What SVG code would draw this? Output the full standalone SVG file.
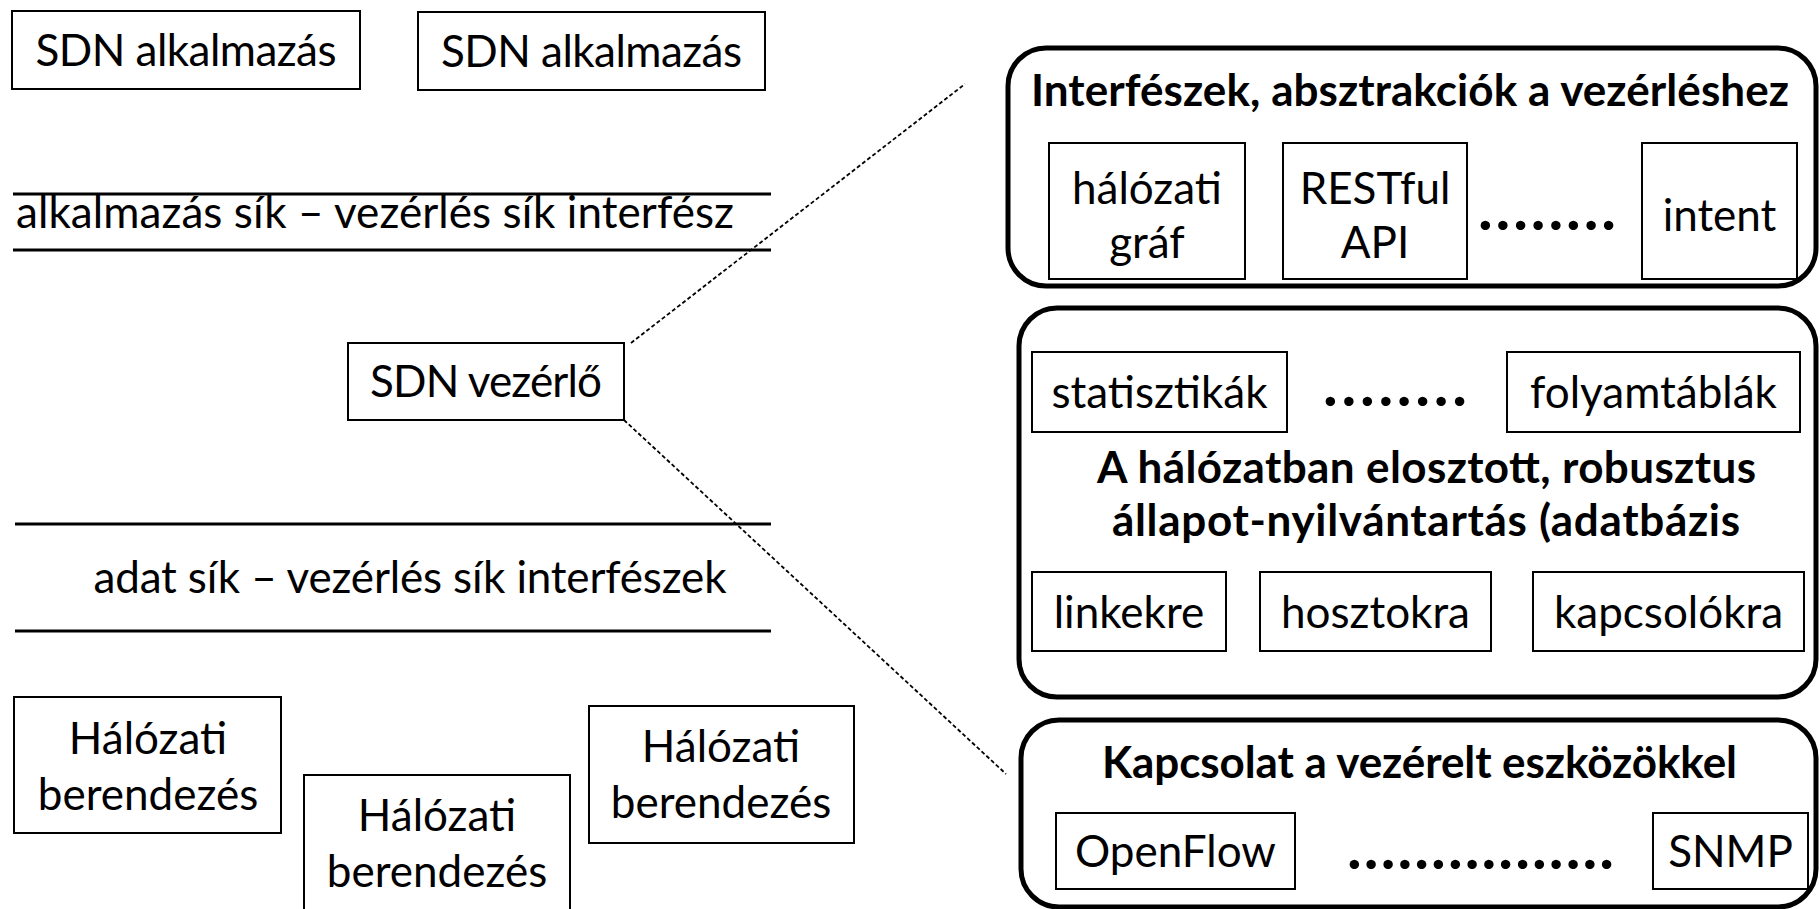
<svg xmlns="http://www.w3.org/2000/svg" width="1820" height="909" viewBox="0 0 1820 909">
  <style>
    .box { fill: #ffffff; stroke: #000000; stroke-width: 2; }
    .panel { fill: #ffffff; stroke: #000000; stroke-width: 5; }
    .rule { stroke: #000000; stroke-width: 3; }
    .lbl { font-family: Lato, "Liberation Sans", sans-serif; font-size: 44px; fill: #000000; text-anchor: middle; }
    .ttl { font-family: Lato, "Liberation Sans", sans-serif; font-size: 44px; font-weight: bold; fill: #000000; text-anchor: middle; }
    .dots { font-family: Lato, "Liberation Sans", sans-serif; font-size: 62px; font-weight: bold; fill: #000000; }
    .link { fill: none; stroke: #000000; stroke-width: 1.8; stroke-dasharray: 4 2.5; }
  </style>
  <rect width="1820" height="909" fill="#ffffff"/>

  <!-- application layer -->
  <g id="app1">
    <rect class="box" x="12" y="11" width="348" height="78"/>
    <text class="lbl" x="186" y="66" textLength="301">SDN alkalmazás</text>
  </g>
  <g id="app2">
    <rect class="box" x="418" y="12" width="347" height="78"/>
    <text class="lbl" x="591.5" y="67" textLength="301">SDN alkalmazás</text>
  </g>

  <!-- northbound interface band -->
  <g id="northbound">
    <line class="rule" x1="13" y1="194" x2="771" y2="194"/>
    <text class="lbl" x="375" y="228" textLength="718">alkalmazás sík – vezérlés sík interfész</text>
    <line class="rule" x1="13" y1="250" x2="771" y2="250"/>
  </g>

  <!-- controller -->
  <g id="controller">
    <rect class="box" x="348" y="343" width="276" height="77"/>
    <text class="lbl" x="486" y="397" textLength="232">SDN vezérlő</text>
  </g>

  <!-- southbound interface band -->
  <g id="southbound">
    <line class="rule" x1="15" y1="524" x2="771" y2="524"/>
    <text class="lbl" x="410" y="593" textLength="633">adat sík – vezérlés sík interfészek</text>
    <line class="rule" x1="15" y1="631" x2="771" y2="631"/>
  </g>

  <!-- network devices -->
  <g id="device1">
    <rect class="box" x="14" y="697" width="267" height="136"/>
    <text class="lbl" x="148" y="754">Hálózati</text>
    <text class="lbl" x="148" y="810">berendezés</text>
  </g>
  <g id="device2">
    <rect class="box" x="304" y="775" width="266" height="150"/>
    <text class="lbl" x="437" y="831">Hálózati</text>
    <text class="lbl" x="437" y="887">berendezés</text>
  </g>
  <g id="device3">
    <rect class="box" x="589" y="706" width="265" height="137"/>
    <text class="lbl" x="721" y="762">Hálózati</text>
    <text class="lbl" x="721" y="818">berendezés</text>
  </g>

  <!-- controller internals: abstractions -->
  <g id="abstractions">
    <rect class="panel" x="1008" y="48" width="808" height="238" rx="38"/>
    <text class="ttl" x="1410" y="106" textLength="758">Interfészek, absztrakciók a vezérléshez</text>
    <rect class="box" x="1049" y="143" width="196" height="136"/>
    <text class="lbl" x="1147" y="204">hálózati</text>
    <text class="lbl" x="1147" y="258">gráf</text>
    <rect class="box" x="1283" y="143" width="184" height="136"/>
    <text class="lbl" x="1375" y="204">RESTful</text>
    <text class="lbl" x="1375" y="258">API</text>
    <text class="dots" x="1478" y="230" textLength="138">........</text>
    <rect class="box" x="1642" y="143" width="155" height="136"/>
    <text class="lbl" x="1719.5" y="231">intent</text>
  </g>

  <!-- controller internals: distributed state -->
  <g id="state">
    <rect class="panel" x="1019" y="308" width="797" height="389" rx="38"/>
    <rect class="box" x="1032" y="352" width="255" height="80"/>
    <text class="lbl" x="1159.5" y="408">statisztikák</text>
    <text class="dots" x="1323" y="406" textLength="144">........</text>
    <rect class="box" x="1507" y="352" width="293" height="80"/>
    <text class="lbl" x="1653.5" y="408">folyamtáblák</text>
    <text class="ttl" x="1426.5" y="483" textLength="659">A hálózatban elosztott, robusztus</text>
    <text class="ttl" x="1426" y="536" textLength="628">állapot-nyilvántartás (adatbázis</text>
    <rect class="box" x="1032" y="572" width="194" height="79"/>
    <text class="lbl" x="1129" y="628">linkekre</text>
    <rect class="box" x="1260" y="572" width="231" height="79"/>
    <text class="lbl" x="1375.5" y="628">hosztokra</text>
    <rect class="box" x="1533" y="572" width="271" height="79"/>
    <text class="lbl" x="1668.5" y="628">kapcsolókra</text>
  </g>

  <!-- controller internals: device communication -->
  <g id="communication">
    <rect class="panel" x="1021" y="720" width="795" height="187" rx="38"/>
    <text class="ttl" x="1419.5" y="778" textLength="635">Kapcsolat a vezérelt eszközökkel</text>
    <rect class="box" x="1056" y="813" width="239" height="76"/>
    <text class="lbl" x="1175.5" y="867">OpenFlow</text>
    <text class="dots" x="1347" y="869" textLength="267">................</text>
    <rect class="box" x="1653" y="813" width="155" height="76"/>
    <text class="lbl" x="1730.5" y="867">SNMP</text>
  </g>

  <!-- zoom-out guide lines -->
  <g id="connectors">
    <line class="link" x1="631" y1="343" x2="965" y2="84"/>
    <line class="link" x1="624" y1="420" x2="1006" y2="774"/>
  </g>
</svg>
